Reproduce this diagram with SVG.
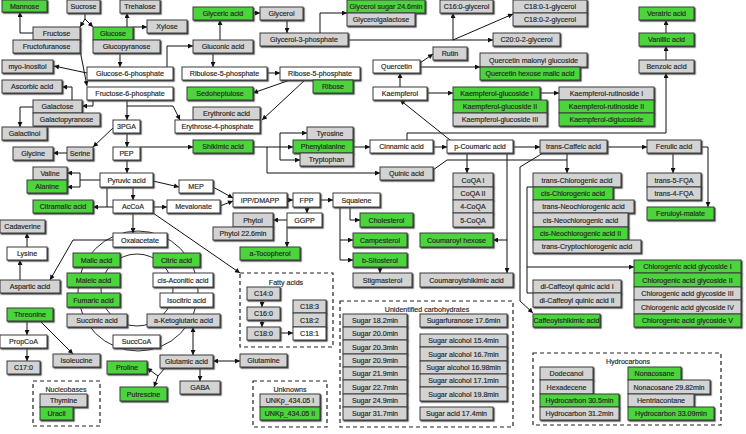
<svg xmlns="http://www.w3.org/2000/svg" width="746" height="434" viewBox="0 0 746 434">
<defs>
<style>
.n rect{stroke:#3a3a3a;stroke-width:1;filter:url(#sh)}
.g rect{fill:#4cd43a}
.y rect{fill:#d3d3d3}
.w rect{fill:#ffffff}
text{font-family:"Liberation Sans",Arial,sans-serif;font-size:7.1px;fill:#2a2a2a;stroke:#2a2a2a;stroke-width:0.18;text-anchor:middle}
#connectors path{fill:none;stroke:#111;stroke-width:1;marker-end:url(#a)}
#connectors path.n0{marker-end:none}
#connectors path.d{marker-start:url(#a)}
.cyc{fill:none;stroke:#111;stroke-width:0.9}
.box{fill:none;stroke:#222;stroke-width:1.2;stroke-dasharray:4 3}
</style>
<filter id="sh" x="-10%" y="-20%" width="130%" height="150%"><feDropShadow dx="1.2" dy="1.2" stdDeviation="0" flood-color="#444"/></filter>
<marker id="a" viewBox="0 0 6 6" refX="6" refY="3" markerWidth="6" markerHeight="5" markerUnits="userSpaceOnUse" orient="auto-start-reverse"><path d="M0,0 L6,3 L0,6z" fill="#111"/></marker>
</defs>
<rect width="746" height="434" fill="#fff"/>
<g id="cycle">
<circle class="cyc" cx="138" cy="291" r="60"/>
<circle class="cyc" cx="137" cy="290" r="36"/>
</g>
<g id="groups">
<rect class="box" x="240" y="273" width="93" height="74"/><text x="286" y="285">Fatty acids</text>
<rect class="box" x="33" y="381" width="67" height="45"/><text x="66" y="392">Nucleobases</text>
<rect class="box" x="253" y="381" width="74" height="46"/><text x="290" y="392">Unknowns</text>
<rect class="box" x="340" y="301" width="173" height="126"/><text x="427" y="312">Unidentified carbohydrates</text>
<rect class="box" x="533" y="353" width="188" height="72"/><text x="628" y="364">Hydrocarbons</text>
</g>
<g id="connectors">
<path d="M33,33 H20 V12"/>
<path d="M85,13 V19 L80,27"/>
<path d="M85,19 L93,27"/>
<path d="M127,27 V13"/>
<path d="M133,27 H147"/>
<path d="M120,53 V67"/>
<path d="M167,67 V46 H193"/>
<path d="M87,73 L54,66"/>
<path d="M78,40 L87,86"/>
<path d="M93,99 V106 H82"/>
<path d="M72,100 V87 H62"/>
<path d="M33,107 H20 V127"/>
<path d="M127,99 V120"/>
<path d="M127,106 H173 L180,120"/>
<path d="M113,128 L93,147"/>
<path d="M127,133 V147"/>
<path d="M67,153 H53"/>
<path d="M140,147 H193"/>
<path d="M127,160 V173"/>
<path class="n0" d="M100,180 H80"/>
<path d="M80,180 V173 H67"/>
<path d="M80,180 V187 H67"/>
<path d="M133,187 V200"/>
<path class="n0" d="M107,187 V207"/>
<path d="M113,207 H93"/>
<path d="M153,181 L179,187"/>
<path d="M153,207 H167"/>
<path d="M133,213 V233"/>
<path d="M153,213 L240,273"/>
<path d="M213,187 L233,198"/>
<path d="M220,206 L233,201"/>
<path d="M287,200 H293"/>
<path d="M320,200 H333"/>
<path d="M307,207 V213"/>
<path d="M287,220 H273"/>
<path d="M287,227 V247"/>
<path class="n0" d="M340,207 V260"/>
<path d="M340,240 H353"/>
<path d="M340,260 H353"/>
<path d="M350,207 V220 H360"/>
<path d="M380,267 V273"/>
<path d="M253,147 H293"/>
<path d="M280,147 V133 H307"/>
<path d="M280,147 V160 H300"/>
<path d="M267,147 V173 H380"/>
<path d="M353,147 H370"/>
<path d="M433,147 H447"/>
<path d="M513,147 H540"/>
<path d="M607,147 H647"/>
<path d="M407,140 V133 H666 V73"/>
<path d="M666,60 V46"/>
<path d="M666,33 V20"/>
<path d="M450,140 L400,100"/>
<path d="M400,87 V73"/>
<path d="M420,63 L433,54"/>
<path d="M420,67 H480"/>
<path d="M427,93 H453"/>
<path d="M540,93 H559"/>
<path d="M287,20 V33"/>
<path d="M220,40 V20"/>
<path d="M253,13 H260"/>
<path d="M320,33 V13 H347"/>
<path d="M348,40 H493"/>
<path d="M453,40 V13"/>
<path d="M453,40 L513,14"/>
<path d="M213,53 V67"/>
<path d="M267,73 H280"/>
<path d="M290,80 L253,93"/>
<path d="M305,80 L262,120"/>
<path d="M673,153 V173"/>
<path d="M701,147 H708 V207"/>
<path d="M567,153 V173"/>
<path class="n0" d="M433,170 L447,160 H567"/>
<path class="n0" d="M535,187 H527 V293 H533"/>
<path d="M527,267 H634"/>
<path d="M543,153 L520,167 V301 L533,313"/>
<path d="M507,153 V273"/>
<path d="M507,240 H493"/>
<path d="M467,153 V173"/>
<path d="M27,321 V335"/>
<path d="M27,347 V361"/>
<path d="M40,321 L73,354"/>
<path d="M20,280 V260"/>
<path d="M27,247 V233"/>
<path d="M113,240 H73 L50,280"/>
<path class="d" d="M193,327 V355"/>
<path class="d" d="M213,361 H240"/>
<path d="M200,368 V381"/>
<path class="n0" d="M165,368 L158,376"/>
<path d="M158,376 L147,368"/>
<path d="M158,376 L154,387"/>
<path d="M262,300 V307"/>
<path d="M262,320 V327"/>
<path d="M280,333 H293"/>
</g>
<g id="mannose" class="n g"><rect x="2" y="0" width="45" height="12"/><text x="24.5" y="8.5">Mannose</text></g>
<g id="sucrose" class="n y"><rect x="67" y="0" width="33" height="13"/><text x="83.5" y="9">Sucrose</text></g>
<g id="trehalose" class="n y"><rect x="120" y="0" width="40" height="13"/><text x="140" y="9">Trehalose</text></g>
<g id="xylose" class="n y"><rect x="147" y="20" width="40" height="13"/><text x="167" y="29">Xylose</text></g>
<g id="fructose" class="n y"><rect x="33" y="27" width="47" height="13"/><text x="56.5" y="36">Fructose</text></g>
<g id="fructofuranose" class="n y"><rect x="13" y="40" width="67" height="13"/><text x="46.5" y="49">Fructofuranose</text></g>
<g id="glucose" class="n g"><rect x="93" y="27" width="40" height="13"/><text x="113" y="36">Glucose</text></g>
<g id="glucopyranose" class="n y"><rect x="93" y="40" width="67" height="13"/><text x="126.5" y="49">Glucopyranose</text></g>
<g id="myo-inositol" class="n y"><rect x="2" y="60" width="51" height="13"/><text x="27.5" y="69">myo-Inositol</text></g>
<g id="g6p" class="n w"><rect x="87" y="67" width="86" height="13"/><text x="130" y="76">Glucose-6-phosphate</text></g>
<g id="ascorbic" class="n y"><rect x="2" y="80" width="60" height="13"/><text x="32" y="89">Ascorbic acid</text></g>
<g id="f6p" class="n w"><rect x="87" y="87" width="86" height="13"/><text x="130" y="96">Fructose-6-phosphate</text></g>
<g id="galactose" class="n y"><rect x="33" y="100" width="49" height="13"/><text x="57.5" y="109">Galactose</text></g>
<g id="galactopyranose" class="n y"><rect x="33" y="113" width="67" height="13"/><text x="66.5" y="122">Galactopyranose</text></g>
<g id="galactinol" class="n y"><rect x="2" y="127" width="45" height="13"/><text x="24.5" y="136">Galactinol</text></g>
<g id="pga" class="n w"><rect x="113" y="120" width="27" height="13"/><text x="126.5" y="129">3PGA</text></g>
<g id="glycine" class="n y"><rect x="13" y="147" width="40" height="13"/><text x="33" y="156">Glycine</text></g>
<g id="serine" class="n y"><rect x="67" y="147" width="26" height="13"/><text x="80" y="156">Serine</text></g>
<g id="pep" class="n w"><rect x="113" y="147" width="27" height="13"/><text x="126.5" y="156">PEP</text></g>
<g id="valine" class="n y"><rect x="33" y="167" width="34" height="13"/><text x="50" y="176">Valine</text></g>
<g id="alanine" class="n g"><rect x="27" y="180" width="40" height="13"/><text x="47" y="189">Alanine</text></g>
<g id="pyruvic" class="n w"><rect x="100" y="173" width="53" height="14"/><text x="126.5" y="182.5">Pyruvic acid</text></g>
<g id="citramalic" class="n g"><rect x="33" y="200" width="60" height="13"/><text x="63" y="209">Citramalic acid</text></g>
<g id="accoa" class="n w"><rect x="113" y="200" width="40" height="13"/><text x="133" y="209">AcCoA</text></g>
<g id="mevalonate" class="n w"><rect x="167" y="200" width="53" height="13"/><text x="193.5" y="209">Mevalonate</text></g>
<g id="mep" class="n w"><rect x="179" y="180" width="34" height="13"/><text x="196" y="189">MEP</text></g>
<g id="cadaverine" class="n y"><rect x="0" y="220" width="45" height="13"/><text x="22.5" y="229">Cadaverine</text></g>
<g id="lysine" class="n w"><rect x="7" y="247" width="40" height="13"/><text x="27" y="256">Lysine</text></g>
<g id="oxalacetate" class="n w"><rect x="113" y="233" width="54" height="14"/><text x="140" y="242.5">Oxalacetate</text></g>
<g id="malic" class="n g"><rect x="73" y="253" width="47" height="14"/><text x="96.5" y="262.5">Malic acid</text></g>
<g id="citric" class="n g"><rect x="153" y="253" width="47" height="14"/><text x="176.5" y="262.5">Citric acid</text></g>
<g id="maleic" class="n g"><rect x="67" y="273" width="53" height="14"/><text x="93.5" y="282.5">Maleic acid</text></g>
<g id="cisaconitic" class="n w"><rect x="153" y="273" width="60" height="14"/><text x="183" y="282.5">cis-Aconitic acid</text></g>
<g id="aspartic" class="n y"><rect x="0" y="280" width="60" height="13"/><text x="30" y="289">Aspartic acid</text></g>
<g id="fumaric" class="n g"><rect x="67" y="293" width="53" height="14"/><text x="93.5" y="302.5">Fumaric acid</text></g>
<g id="isocitric" class="n w"><rect x="160" y="293" width="53" height="14"/><text x="186.5" y="302.5">Isocitric acid</text></g>
<g id="threonine" class="n g"><rect x="7" y="308" width="46" height="13"/><text x="30" y="317">Threonine</text></g>
<g id="succinic" class="n y"><rect x="67" y="314" width="60" height="13"/><text x="97" y="323">Succinic acid</text></g>
<g id="aketoglutaric" class="n y"><rect x="147" y="314" width="73" height="13"/><text x="183.5" y="323">a-Ketoglutaric acid</text></g>
<g id="propcoa" class="n w"><rect x="0" y="335" width="47" height="13"/><text x="23.5" y="344">PropCoA</text></g>
<g id="succcoa" class="n w"><rect x="113" y="335" width="47" height="13"/><text x="136.5" y="344">SuccCoA</text></g>
<g id="isoleucine" class="n y"><rect x="53" y="354" width="47" height="13"/><text x="76.5" y="363">Isoleucine</text></g>
<g id="c17" class="n y"><rect x="7" y="361" width="33" height="13"/><text x="23.5" y="370">C17:0</text></g>
<g id="proline" class="n g"><rect x="107" y="361" width="40" height="13"/><text x="127" y="370">Proline</text></g>
<g id="glutamic" class="n y"><rect x="160" y="355" width="53" height="13"/><text x="186.5" y="364">Glutamic acid</text></g>
<g id="glutamine" class="n y"><rect x="240" y="354" width="47" height="13"/><text x="263.5" y="363">Glutamine</text></g>
<g id="gaba" class="n y"><rect x="180" y="381" width="40" height="13"/><text x="200" y="390">GABA</text></g>
<g id="putrescine" class="n g"><rect x="120" y="387" width="47" height="14"/><text x="143.5" y="396.5">Putrescine</text></g>
<g id="thymine" class="n y"><rect x="40" y="394" width="47" height="13"/><text x="63.5" y="403">Thymine</text></g>
<g id="uracil" class="n g"><rect x="40" y="407" width="33" height="13"/><text x="56.5" y="416">Uracil</text></g>
<g id="glyceric" class="n g"><rect x="193" y="7" width="60" height="13"/><text x="223" y="16">Glyceric acid</text></g>
<g id="glycerol" class="n y"><rect x="260" y="7" width="43" height="13"/><text x="281.5" y="16">Glycerol</text></g>
<g id="g3p" class="n y"><rect x="260" y="33" width="88" height="13"/><text x="304" y="42">Glycerol-3-phosphate</text></g>
<g id="gluconic" class="n y"><rect x="193" y="40" width="60" height="13"/><text x="223" y="49">Gluconic acid</text></g>
<g id="ribulose5p" class="n w"><rect x="182" y="67" width="85" height="13"/><text x="224.5" y="76">Ribulose-5-phosphate</text></g>
<g id="ribose5p" class="n w"><rect x="280" y="67" width="80" height="13"/><text x="320" y="76">Ribose-5-phosphate</text></g>
<g id="ribose" class="n g"><rect x="313" y="80" width="40" height="13"/><text x="333" y="89">Ribose</text></g>
<g id="sedoheptulose" class="n g"><rect x="187" y="87" width="66" height="13"/><text x="220" y="96">Sedoheptulose</text></g>
<g id="erythronic" class="n y"><rect x="193" y="107" width="67" height="13"/><text x="226.5" y="116">Erythronic acid</text></g>
<g id="e4p" class="n w"><rect x="175" y="120" width="85" height="13"/><text x="217.5" y="129">Erythrose-4-phosphate</text></g>
<g id="tyrosine" class="n y"><rect x="307" y="127" width="46" height="13"/><text x="330" y="136">Tyrosine</text></g>
<g id="shikimic" class="n g"><rect x="193" y="140" width="60" height="13"/><text x="223" y="149">Shikimic acid</text></g>
<g id="phenylalanine" class="n g"><rect x="293" y="140" width="60" height="13"/><text x="323" y="149">Phenylalanine</text></g>
<g id="tryptophan" class="n y"><rect x="300" y="153" width="53" height="13"/><text x="326.5" y="162">Tryptophan</text></g>
<g id="ipp" class="n w"><rect x="233" y="193" width="54" height="14"/><text x="260" y="202.5">IPP/DMAPP</text></g>
<g id="fpp" class="n w"><rect x="293" y="193" width="27" height="14"/><text x="306.5" y="202.5">FPP</text></g>
<g id="squalene" class="n w"><rect x="333" y="193" width="47" height="14"/><text x="356.5" y="202.5">Squalene</text></g>
<g id="phytol" class="n y"><rect x="233" y="213" width="40" height="14"/><text x="253" y="222.5">Phytol</text></g>
<g id="ggpp" class="n w"><rect x="287" y="213" width="35" height="14"/><text x="304.5" y="222.5">GGPP</text></g>
<g id="phytol226" class="n y"><rect x="213" y="227" width="60" height="13"/><text x="243" y="236">Phytol 22.6min</text></g>
<g id="atocopherol" class="n g"><rect x="240" y="247" width="60" height="13"/><text x="270" y="256">a-Tocopherol</text></g>
<g id="cholesterol" class="n g"><rect x="360" y="213" width="53" height="14"/><text x="386.5" y="222.5">Cholesterol</text></g>
<g id="campesterol" class="n g"><rect x="353" y="233" width="54" height="14"/><text x="380" y="242.5">Campesterol</text></g>
<g id="bsitosterol" class="n g"><rect x="353" y="253" width="54" height="14"/><text x="380" y="262.5">b-Sitosterol</text></g>
<g id="stigmasterol" class="n y"><rect x="353" y="273" width="59" height="14"/><text x="382.5" y="282.5">Stigmasterol</text></g>
<g id="c140" class="n y"><rect x="247" y="287" width="33" height="13"/><text x="263.5" y="296">C14:0</text></g>
<g id="c160" class="n y"><rect x="247" y="307" width="33" height="13"/><text x="263.5" y="316">C16:0</text></g>
<g id="c180" class="n y"><rect x="247" y="327" width="33" height="13"/><text x="263.5" y="336">C18:0</text></g>
<g id="c183" class="n y"><rect x="293" y="300" width="33" height="13"/><text x="309.5" y="309">C18:3</text></g>
<g id="c182" class="n y"><rect x="293" y="313" width="33" height="14"/><text x="309.5" y="322.5">C18:2</text></g>
<g id="c181" class="n w"><rect x="293" y="327" width="33" height="13"/><text x="309.5" y="336">C18:1</text></g>
<g id="unk1" class="n y"><rect x="260" y="394" width="60" height="13"/><text x="290" y="403">UNKp_434.05 I</text></g>
<g id="unk2" class="n g"><rect x="260" y="407" width="60" height="13"/><text x="290" y="416">UNKp_434.05 II</text></g>
<g id="s182" class="n y"><rect x="343" y="314" width="64" height="13"/><text x="375" y="323">Sugar 18.2min</text></g>
<g id="s200" class="n y"><rect x="343" y="327" width="64" height="13"/><text x="375" y="336">Sugar 20.0min</text></g>
<g id="s203" class="n y"><rect x="343" y="340" width="64" height="14"/><text x="375" y="349.5">Sugar 20.3min</text></g>
<g id="s209" class="n y"><rect x="343" y="354" width="64" height="13"/><text x="375" y="363">Sugar 20.9min</text></g>
<g id="s219" class="n y"><rect x="343" y="367" width="64" height="13"/><text x="375" y="376">Sugar 21.9min</text></g>
<g id="s227" class="n y"><rect x="343" y="380" width="64" height="14"/><text x="375" y="389.5">Sugar 22.7min</text></g>
<g id="s249" class="n y"><rect x="343" y="394" width="64" height="13"/><text x="375" y="403">Sugar 24.9min</text></g>
<g id="s317" class="n y"><rect x="343" y="407" width="64" height="13"/><text x="375" y="416">Sugar 31.7min</text></g>
<g id="sugarfuranose" class="n y"><rect x="420" y="314" width="87" height="13"/><text x="463.5" y="323">Sugarfuranose 17.6min</text></g>
<g id="sa154" class="n y"><rect x="420" y="334" width="87" height="13"/><text x="463.5" y="343">Sugar alcohol 15.4min</text></g>
<g id="sa167" class="n y"><rect x="420" y="347" width="87" height="14"/><text x="463.5" y="356.5">Sugar alcohol 16.7min</text></g>
<g id="sa1698" class="n y"><rect x="420" y="361" width="87" height="13"/><text x="463.5" y="370">Sugar alcohol 16.98min</text></g>
<g id="sa171" class="n y"><rect x="420" y="374" width="87" height="13"/><text x="463.5" y="383">Sugar alcohol 17.1min</text></g>
<g id="sa198" class="n y"><rect x="420" y="387" width="87" height="14"/><text x="463.5" y="396.5">Sugar alcohol 19.8min</text></g>
<g id="sugaracid" class="n y"><rect x="420" y="407" width="73" height="13"/><text x="456.5" y="416">Sugar acid 17.4min</text></g>
<g id="glycerolsugar" class="n g"><rect x="347" y="0" width="78" height="13"/><text x="386" y="9">Glycerol sugar 24.6min</text></g>
<g id="glycerolgalactose" class="n y"><rect x="347" y="13" width="68" height="13"/><text x="381" y="22">Glycerolgalactose</text></g>
<g id="c160g" class="n y"><rect x="440" y="0" width="53" height="13"/><text x="466.5" y="9">C16:0-glycerol</text></g>
<g id="c1801g" class="n y"><rect x="513" y="0" width="74" height="13"/><text x="550" y="9">C18:0-1-glycerol</text></g>
<g id="c1802g" class="n y"><rect x="513" y="13" width="74" height="13"/><text x="550" y="22">C18:0-2-glycerol</text></g>
<g id="c2002g" class="n y"><rect x="493" y="33" width="67" height="13"/><text x="526.5" y="42">C20:0-2-glycerol</text></g>
<g id="rutin" class="n y"><rect x="433" y="47" width="34" height="13"/><text x="450" y="56">Rutin</text></g>
<g id="quercetin" class="n w"><rect x="373" y="60" width="47" height="13"/><text x="396.5" y="69">Quercetin</text></g>
<g id="qmalonyl" class="n y"><rect x="480" y="53" width="107" height="14"/><text x="533.5" y="62.5">Quercetin malonyl glucoside</text></g>
<g id="qhexose" class="n g"><rect x="480" y="67" width="100" height="13"/><text x="530" y="76">Quercetin hexose malic acid</text></g>
<g id="kaempferol" class="n w"><rect x="373" y="87" width="54" height="13"/><text x="400" y="96">Kaempferol</text></g>
<g id="kg1" class="n g"><rect x="453" y="87" width="87" height="13"/><text x="496.5" y="96">Kaempferol-glucoside I</text></g>
<g id="kg2" class="n g"><rect x="453" y="100" width="94" height="13"/><text x="500" y="109">Kaempferol-glucoside II</text></g>
<g id="kg3" class="n y"><rect x="453" y="113" width="94" height="13"/><text x="500" y="122">Kaempferol-glucoside III</text></g>
<g id="kr1" class="n y"><rect x="559" y="87" width="95" height="13"/><text x="606.5" y="96">Kaempferol-rutinoside I</text></g>
<g id="kr2" class="n g"><rect x="559" y="100" width="95" height="13"/><text x="606.5" y="109">Kaempferol-rutinoside II</text></g>
<g id="kdg" class="n g"><rect x="559" y="113" width="95" height="13"/><text x="606.5" y="122">Kaempferol-diglucoside</text></g>
<g id="veratric" class="n g"><rect x="639" y="7" width="55" height="13"/><text x="666.5" y="16">Veratric acid</text></g>
<g id="vanillic" class="n g"><rect x="639" y="33" width="55" height="13"/><text x="666.5" y="42">Vanillic acid</text></g>
<g id="benzoic" class="n y"><rect x="639" y="60" width="55" height="13"/><text x="666.5" y="69">Benzoic acid</text></g>
<g id="cinnamic" class="n w"><rect x="370" y="140" width="63" height="13"/><text x="401.5" y="149">Cinnamic acid</text></g>
<g id="pcoumaric" class="n w"><rect x="447" y="140" width="66" height="13"/><text x="480" y="149">p-Coumaric acid</text></g>
<g id="transcaffeic" class="n y"><rect x="540" y="140" width="67" height="13"/><text x="573.5" y="149">trans-Caffeic acid</text></g>
<g id="ferulic" class="n y"><rect x="647" y="140" width="54" height="13"/><text x="674" y="149">Ferulic acid</text></g>
<g id="quinic" class="n y"><rect x="380" y="167" width="53" height="13"/><text x="406.5" y="176">Quinic acid</text></g>
<g id="coqa1" class="n y"><rect x="453" y="173" width="40" height="14"/><text x="473" y="182.5">CoQA I</text></g>
<g id="coqa2" class="n y"><rect x="453" y="187" width="40" height="13"/><text x="473" y="196">CoQA II</text></g>
<g id="coqa4" class="n y"><rect x="453" y="200" width="40" height="13"/><text x="473" y="209">4-CoQA</text></g>
<g id="coqa5" class="n y"><rect x="453" y="213" width="40" height="14"/><text x="473" y="222.5">5-CoQA</text></g>
<g id="t5fqa" class="n y"><rect x="647" y="173" width="54" height="14"/><text x="674" y="182.5">trans-5-FQA</text></g>
<g id="t4fqa" class="n y"><rect x="647" y="187" width="54" height="13"/><text x="674" y="196">trans-4-FQA</text></g>
<g id="feruloylmalate" class="n g"><rect x="647" y="207" width="67" height="13"/><text x="680.5" y="216">Feruloyl-malate</text></g>
<g id="transchl" class="n y"><rect x="533" y="173" width="88" height="14"/><text x="577" y="182.5">trans-Chlorogenic acid</text></g>
<g id="cischl" class="n g"><rect x="533" y="187" width="80" height="13"/><text x="573" y="196">cis-Chlorogenic acid</text></g>
<g id="transneo" class="n y"><rect x="533" y="200" width="101" height="13"/><text x="583.5" y="209">trans-Neochlorogenic acid</text></g>
<g id="cisneo" class="n y"><rect x="533" y="213" width="95" height="14"/><text x="580.5" y="222.5">cis-Neochlorogenic acid</text></g>
<g id="cisneo2" class="n g"><rect x="533" y="227" width="95" height="13"/><text x="580.5" y="236">cis-Neochlorogenic acid II</text></g>
<g id="transcrypto" class="n y"><rect x="533" y="240" width="108" height="13"/><text x="587" y="249">trans-Cryptochlorogenic acid</text></g>
<g id="coumaroylhexose" class="n g"><rect x="420" y="233" width="73" height="14"/><text x="456.5" y="242.5">Coumaroyl hexose</text></g>
<g id="coumaroylshikimic" class="n y"><rect x="420" y="273" width="93" height="14"/><text x="466.5" y="282.5">Coumaroylshikimic acid</text></g>
<g id="dicq1" class="n y"><rect x="533" y="280" width="88" height="13"/><text x="577" y="289">di-Caffeoyl quinic acid I</text></g>
<g id="dicq2" class="n y"><rect x="533" y="293" width="88" height="14"/><text x="577" y="302.5">di-Caffeoyl quinic acid II</text></g>
<g id="caffeoylshikimic" class="n g"><rect x="533" y="314" width="67" height="13"/><text x="566.5" y="323">Caffeoylshikimic acid</text></g>
<g id="cag1" class="n g"><rect x="634" y="260" width="107" height="13"/><text x="687.5" y="269">Chlorogenic acid glycoside I</text></g>
<g id="cag2" class="n g"><rect x="634" y="273" width="107" height="14"/><text x="687.5" y="282.5">Chlorogenic acid glycoside II</text></g>
<g id="cag3" class="n y"><rect x="634" y="287" width="107" height="13"/><text x="687.5" y="296">Chlorogenic acid glycoside III</text></g>
<g id="cag4" class="n y"><rect x="634" y="300" width="107" height="14"/><text x="687.5" y="309.5">Chlorogenic acid glycoside IV</text></g>
<g id="cag5" class="n g"><rect x="634" y="314" width="107" height="13"/><text x="687.5" y="323">Chlorogenic acid glycoside V</text></g>
<g id="dodecanol" class="n y"><rect x="540" y="367" width="53" height="13"/><text x="566.5" y="376">Dodecanol</text></g>
<g id="hexadecene" class="n y"><rect x="540" y="380" width="53" height="14"/><text x="566.5" y="389.5">Hexadecene</text></g>
<g id="hc305" class="n g"><rect x="540" y="394" width="79" height="13"/><text x="579.5" y="403">Hydrocarbon 30.5min</text></g>
<g id="hc312" class="n y"><rect x="540" y="407" width="79" height="13"/><text x="579.5" y="416">Hydrocarbon 31.2min</text></g>
<g id="nonacosane" class="n g"><rect x="628" y="367" width="53" height="13"/><text x="654.5" y="376">Nonacosane</text></g>
<g id="non2982" class="n y"><rect x="628" y="380" width="82" height="14"/><text x="669" y="389.5">Nonacosane 29.82min</text></g>
<g id="hentriacontane" class="n y"><rect x="628" y="394" width="66" height="13"/><text x="661" y="403">Hentriacontane</text></g>
<g id="hc3309" class="n g"><rect x="628" y="407" width="86" height="13"/><text x="671" y="416">Hydrocarbon 33.09min</text></g>
</svg>
